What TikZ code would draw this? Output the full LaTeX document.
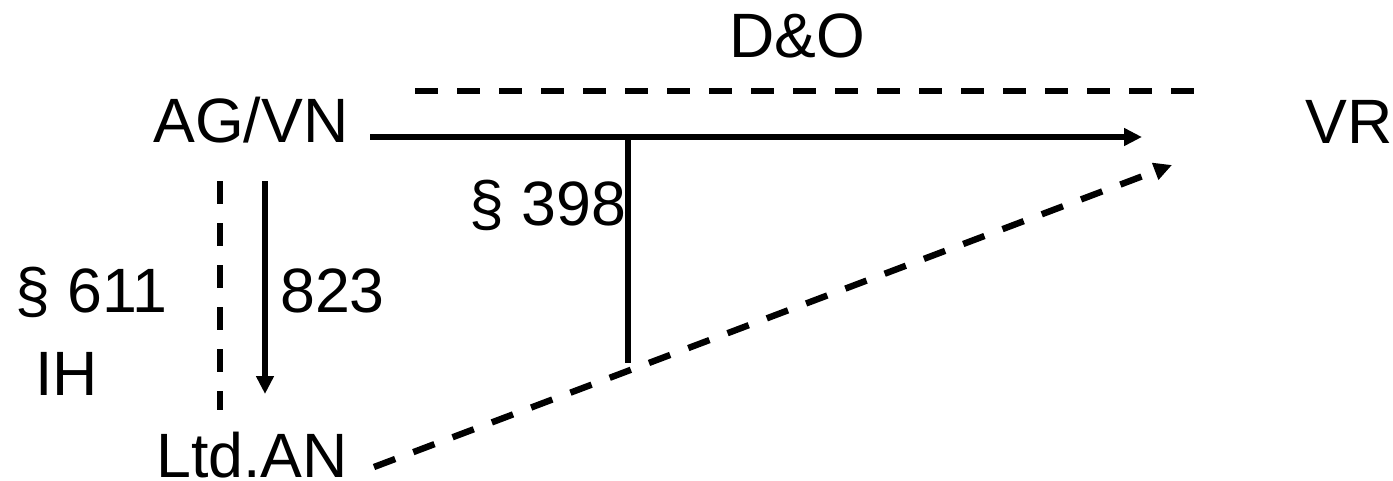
\documentclass[tikz,border=0pt]{standalone}
\usepackage{fontspec}
\setmainfont{Liberation Sans}
\usetikzlibrary{arrows.meta}
\tikzset{
  lbl/.style={anchor=base west, inner sep=0pt, font=\fontsize{47}{56}\selectfont},
  solidline/.style={line width=4.8pt},
  dashline/.style={line width=4.8pt, dash pattern=on 17pt off 14.5pt},
  tip/.style={-{Triangle[length=13.5pt,width=12.75pt]}}
}
\begin{document}
\begin{tikzpicture}[x=0.75pt,y=-0.75pt]
\useasboundingbox (0,0) rectangle (1393,480);
% labels
\node[lbl] (agvn) at (153,142) {AG/VN};
\node[lbl] (vr) at (1305,143) {VR};
\node[lbl,anchor=base] (do) at (797,57) {D\&O};
\node[lbl] (p398) at (469,225) {\S{} 398};
\node[lbl] (p611) at (15,312) {\S{} 611};
\node[lbl] (ih) at (35,395) {IH};
\node[lbl] (n823) at (280,312) {823};
\node[lbl] (ltd) at (156,477) {Ltd.AN};
% connector endpoints
\coordinate (h0) at (370,137);
\coordinate (h1) at (1142,137);
\coordinate (t0) at (628,137);
\coordinate (t1) at (628,363);
\coordinate (v0) at (265,181);
\coordinate (v1) at (265,394);
\coordinate (d0) at (220,181);
\coordinate (d1) at (220,410);
\coordinate (g0) at (374,467);
\coordinate (g1) at (1172,165);
\coordinate (top0) at (415,91);
\coordinate (top1) at (1200,91);
% connectors
\draw[solidline,tip] (h0) -- (h1);
\draw[solidline] (t0) -- (t1);
\draw[solidline,tip] (v0) -- (v1);
\draw[dashline] (d0) -- (d1);
\draw[dashline,tip] (g0) -- (g1);
\draw[dashline] (top0) -- (top1);
\end{tikzpicture}
\end{document}
